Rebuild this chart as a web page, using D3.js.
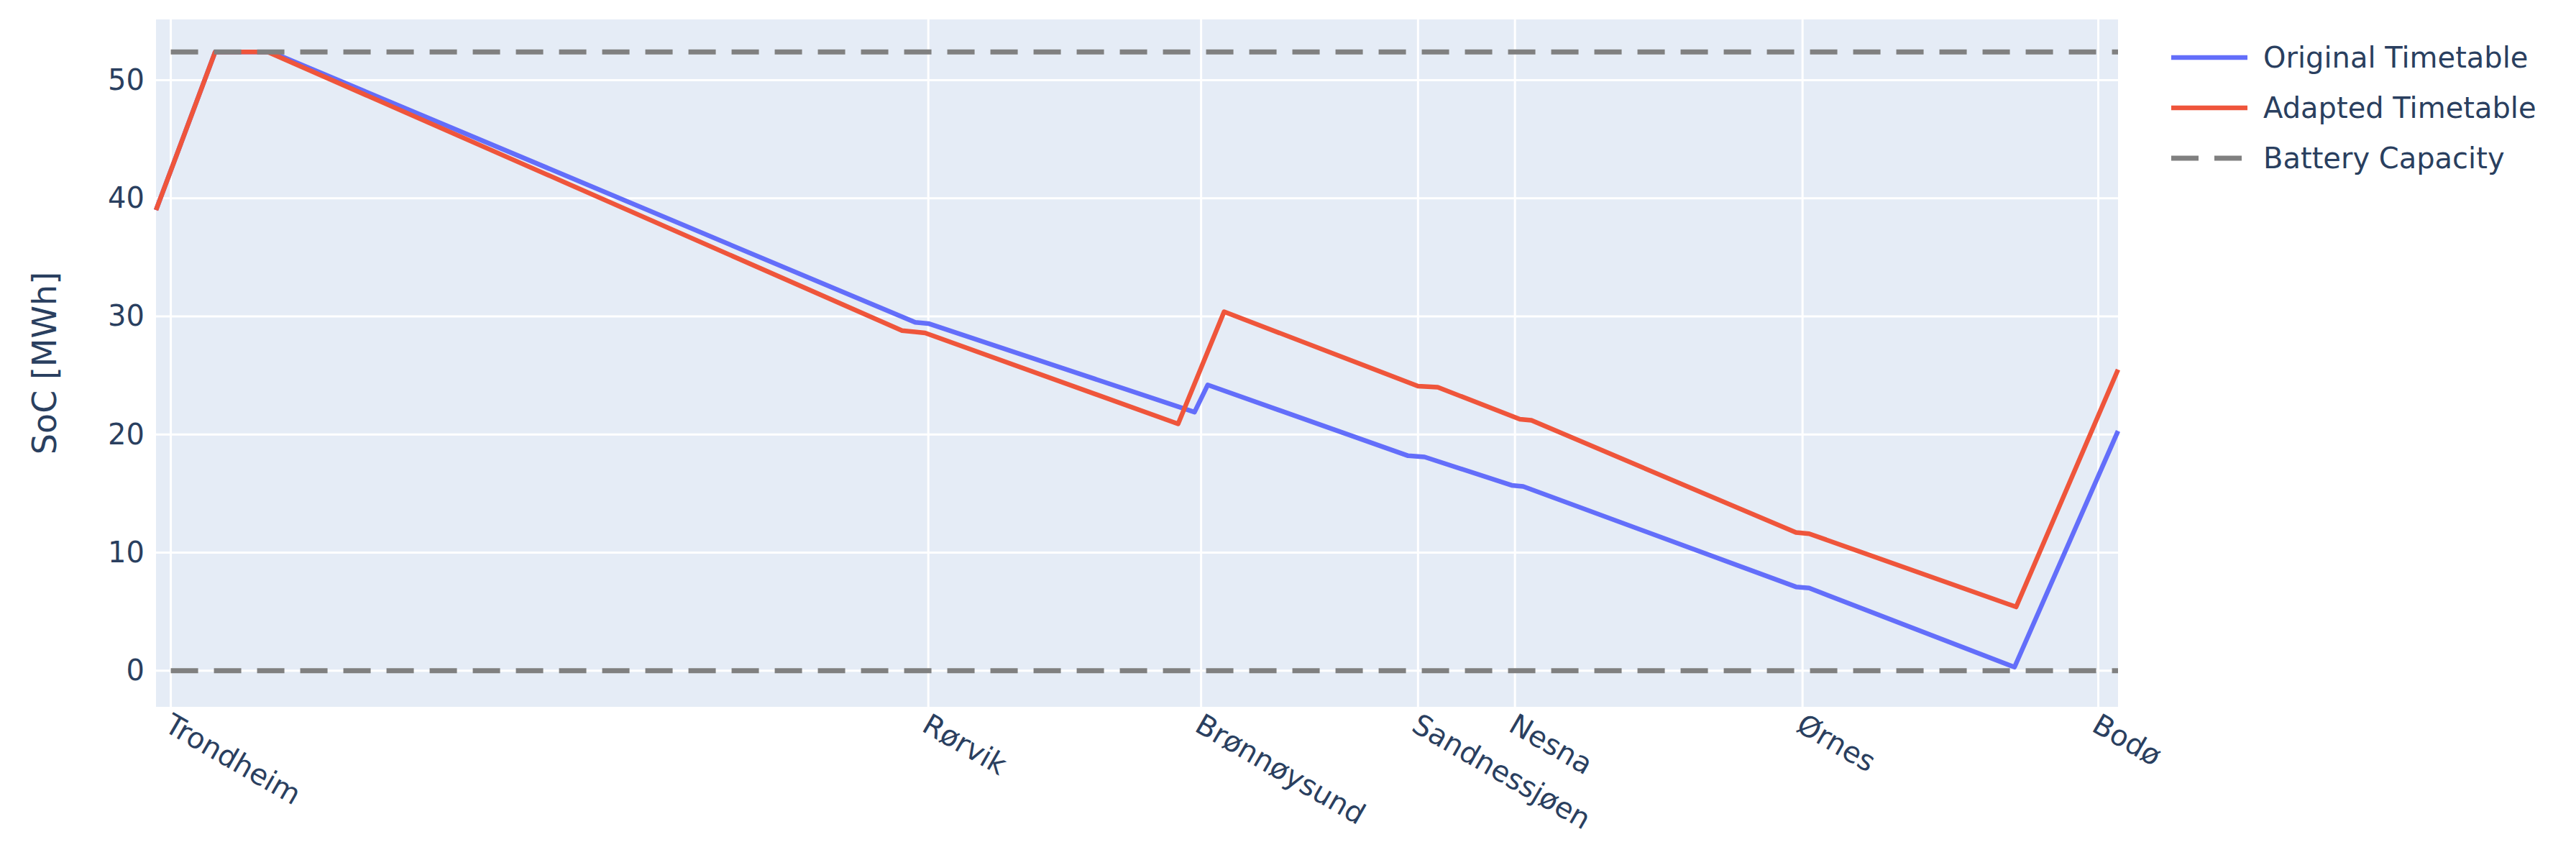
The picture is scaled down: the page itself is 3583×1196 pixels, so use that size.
<!DOCTYPE html>
<html><head><meta charset="utf-8">
<script src="https://cdn.jsdelivr.net/npm/d3@7"></script>
<style>body{margin:0;background:#fff}svg text{font-family:"DejaVu Sans",sans-serif;fill:#2a3f5f}</style>
</head><body><svg id="c" width="3583" height="1196"></svg>
<script>
const stations=["Trondheim","Rørvik","Brønnøysund","Sandnessjøen","Nesna","Ørnes","Bodø"];
const stationPos=[0,46.1,62.7,75.9,81.8,99.3,117.3];
const yTicks=[0,10,20,30,40,50];
const batteryCapacity=52.4;
const origX=[-0.9,2.7,6.1,45.3,46.1,62.3,63.1,75.3,76.3,81.6,82.3,98.9,99.7,112.2,118.5];
const origY=[39.0,52.4,52.4,29.5,29.4,21.9,24.2,18.2,18.1,15.7,15.6,7.1,7.0,0.3,20.3];
const adaptX=[-0.9,2.7,5.9,44.5,45.9,61.3,64.1,75.9,77.1,82.1,82.8,98.9,99.7,112.3,118.5];
const adaptY=[39.0,52.4,52.4,28.8,28.6,20.9,30.4,24.1,24.0,21.3,21.2,11.7,11.6,5.4,25.5];
const names=["Original Timetable","Adapted Timetable","Battery Capacity"];
const colors=["#636efa","#ef553b","#808080"];

const L=217,R=2946,T=27,B=983;
const svg=d3.select("#c");
const x=d3.scaleLinear().domain([-0.9,118.5]).range([L,R]);
const y=d3.scaleLinear().domain([-3.06,55.15]).range([B,T]);
svg.append("rect").attr("x",L).attr("y",T).attr("width",R-L).attr("height",B-T).attr("fill","#e5ecf6");
const g=svg.append("g");
yTicks.forEach(v=>g.append("line").attr("x1",L).attr("x2",R).attr("y1",y(v)).attr("y2",y(v)).attr("stroke","#fff").attr("stroke-width",3));
stationPos.forEach(v=>g.append("line").attr("x1",x(v)).attr("x2",x(v)).attr("y1",T).attr("y2",B).attr("stroke","#fff").attr("stroke-width",3));
const yAx=svg.append("g").attr("transform",`translate(${L},0)`).call(d3.axisLeft(y).tickValues(yTicks).tickSize(0).tickPadding(16));
yAx.select(".domain").remove();yAx.selectAll("text").attr("font-size",40).style("fill","#2a3f5f");
const xAx=svg.append("g").attr("transform",`translate(0,${B})`).call(d3.axisBottom(x).tickValues(stationPos).tickFormat((d,i)=>stations[i]).tickSize(0));
xAx.select(".domain").remove();
xAx.selectAll("text").attr("font-size",40).attr("text-anchor","start").attr("dy",0).attr("transform","translate(-10,30) rotate(30)").style("fill","#2a3f5f");
svg.append("text").attr("transform",`translate(78,${(T+B)/2}) rotate(-90)`).attr("text-anchor","middle").attr("font-size",46).text("SoC [MWh]");
const line=d3.line().x(d=>x(d[0])).y(d=>y(d[1]));
[[origX,origY],[adaptX,adaptY]].forEach((s,i)=>{
 svg.append("path").datum(s[0].map((v,j)=>[v,s[1][j]])).attr("d",line).attr("fill","none").attr("stroke",colors[i]).attr("stroke-width",6.5).attr("stroke-linejoin","round");
});
[batteryCapacity,0].forEach(v=>svg.append("line").attr("x1",x(0)).attr("x2",x(118.5)).attr("y1",y(v)).attr("y2",y(v)).attr("stroke",colors[2]).attr("stroke-width",7).attr("stroke-dasharray","38,22"));
names.forEach((n,i)=>{
 const yy=80+i*70;
 svg.append("line").attr("x1",3020).attr("x2",3126).attr("y1",yy).attr("y2",yy).attr("stroke",colors[i]).attr("stroke-width",i==2?7:6.5).attr("stroke-dasharray",i==2?"38,22":null);
 svg.append("text").attr("x",3148).attr("y",yy+14).attr("font-size",40).text(n);
});
</script></body></html>
